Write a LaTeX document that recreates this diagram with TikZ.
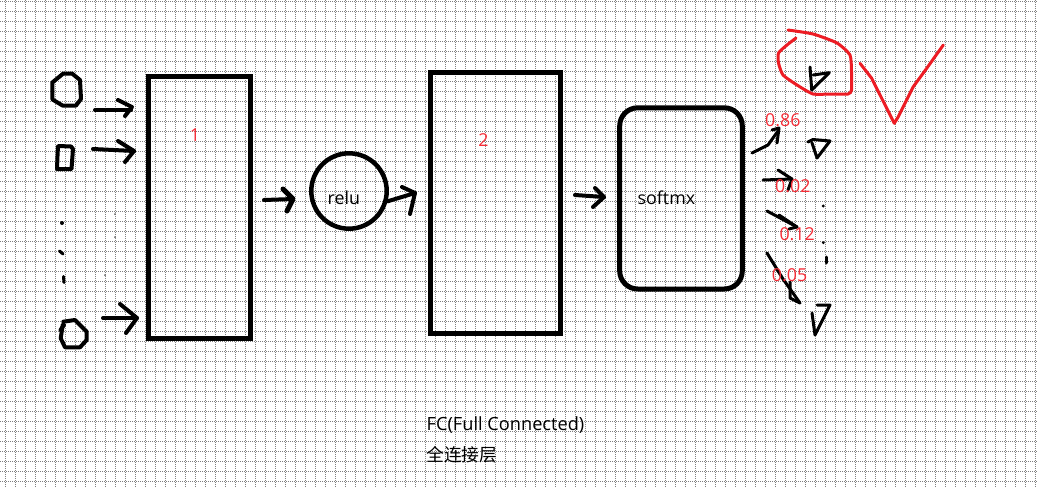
\documentclass[tikz,border=0pt]{standalone}
\usepackage{fontspec}
\setmainfont{Open Sans}
\newfontfamily\cjk{Noto Sans CJK SC}
\definecolor{pred}{RGB}{237,28,36}
\definecolor{tred}{RGB}{245,45,55}
\tikzset{
  hand/.style={line width=4pt, line cap=round, line join=round, black},
  fine/.style={line width=3pt, line cap=round, line join=round, black},
  redhand/.style={line width=3pt, line cap=round, line join=round, pred},
  lbl/.style={font=\fontsize{17.8}{20}\selectfont, inner sep=0pt, anchor=base west},
  rlbl/.style={lbl, text=tred},
  layerbox/.style={draw, rectangle, line width=4.5pt, inner sep=0pt},
  gridline/.style={black!50, line width=0.8pt, dash pattern=on 1pt off 1pt},
}
\begin{document}
\begin{tikzpicture}[x=1pt, y=-1pt]
\useasboundingbox (0,0) rectangle (1038,487);
\fill[white] (0,0) rectangle (1038,487);
% grid
\foreach \k in {0,...,103} { \draw[gridline] (5.5+10*\k,0) -- (5.5+10*\k,487); }
\foreach \k in {0,...,48} { \draw[gridline] (0,1.5+10*\k) -- (1038,1.5+10*\k); }

% layers
\node[layerbox, minimum width=102pt, minimum height=262pt] (fc1) at (199.3,207.3) {};
\node[rlbl, anchor=base] (fc1lbl) at (195,141) {1};
\node[draw, circle, line width=4.5pt, minimum size=75.4pt, inner sep=0pt] (relu) at (349,191) {};
\node[lbl] (relulbl) at (327.5,204) {relu};
\node[layerbox, minimum width=129.6pt, minimum height=261pt] (fc2) at (495.5,203) {};
\node[rlbl, anchor=base] (fc2lbl) at (483.5,146) {2};
\node[layerbox, line width=5pt, rounded corners=18pt, minimum width=122.6pt, minimum height=181.2pt] (soft) at (681,198.4) {};
\node[lbl] (softlbl) at (637.5,204) {softmx};

% inputs
\draw[hand] (63.3,73.5) -- (72,73.5) -- (80,80) -- (81,99) -- (76,105.5) -- (62.5,105.5) -- (52.5,99.5) -- (52.3,82.5) -- cycle;
\draw[hand] (58,146) -- (71,146.5) -- (73,149) -- (71.5,169) -- (57,169) -- (57.5,156) -- cycle;
\fill (62,223) circle (2pt);
\draw[hand, line width=3pt] (59.5,251) -- (63,254);
\draw[hand, line width=3pt] (63.5,276.5) -- (64,282.5);
\fill[black!60] (115,214) circle (1pt);
\fill[black!60] (115,237) circle (1pt);
\fill[black!60] (105,275) circle (1pt);
\draw[hand] (63.3,321.7) -- (75,320) -- (86.7,331.7) -- (86.7,340) -- (80,347.3) -- (65,347.3) -- (60.7,338.3) -- (62.7,325);
\draw[hand] (60.5,330) -- (64,325);

% arrows into layer 1
\coordinate (a1s) at (95,110);  \coordinate (a1t) at (132,107);
\draw[hand] (a1s) -- ([shift={(-1,3)}]a1t);
\draw[hand] ([shift={(-14,-7)}]a1t) -- (a1t) -- ([shift={(-7,9)}]a1t);
\coordinate (a2s) at (93,149);  \coordinate (a2t) at (134,151);
\draw[hand] (a2s) -- (a2t);
\draw[hand] ([shift={(-16,-10)}]a2t) -- (a2t) -- ([shift={(-9,11)}]a2t);
\coordinate (a3s) at (103,318);  \coordinate (a3t) at (137,318);
\draw[hand] (a3s) -- (a3t);
\draw[hand] ([shift={(-17,-14)}]a3t) -- (a3t) -- ([shift={(-11,15)}]a3t);

% layer 1 -> relu
\coordinate (a4s) at (264,200);  \coordinate (a4t) at (293,199);
\draw[hand] (a4s) -- (a4t);
\draw[hand, line width=5pt] ([shift={(-10,-10)}]a4t) -- (a4t) -- ([shift={(-6,12)}]a4t);
% relu -> layer 2
\coordinate (a5t) at (415,193);
\draw[hand] (relu.-15) -- (a5t);
\draw[hand] ([shift={(-13,-6)}]a5t) -- (a5t) -- ([shift={(-5,21)}]a5t);
% layer 2 -> softmax
\coordinate (a6s) at (575,195);  \coordinate (a6t) at (604,197);
\draw[hand] (a6s) -- (a6t);
\draw[hand] ([shift={(-9,-9)}]a6t) -- (a6t) -- ([shift={(-11,10)}]a6t);

% softmax outputs
\coordinate (a7s) at (752,153);  \coordinate (a7t) at (779,128);
\draw[fine] (a7s) -- (768,145) -- ([shift={(-1,3)}]a7t);
\draw[fine] ([shift={(-7,2)}]a7t) -- (a7t) -- ([shift={(-2,15)}]a7t);
\node[rlbl] (p1) at (765,126) {0.86};

\coordinate (a8s) at (763,180);  \coordinate (a8t) at (792,179);
\draw[fine] (a8s) -- (a8t);
\draw[fine] ([shift={(-14,-9)}]a8t) -- (a8t) -- ([shift={(-4,11)}]a8t);
\node[rlbl] (p2) at (775,192.7) {0.02};

\coordinate (a9s) at (767,211);  \coordinate (a9t) at (797,227);
\draw[fine] (a9s) -- (a9t);
\draw[fine] ([shift={(-18,-12)}]a9t) -- (a9t) -- ([shift={(-8,2)}]a9t);
\node[rlbl] (p3) at (779.3,240.7) {0.12};

\coordinate (a10s) at (767,253);  \coordinate (a10t) at (800,303);
\draw[fine] (a10s) -- (783,279) -- (a10t);
\draw[fine] ([shift={(-10,-21)}]a10t) -- ([shift={(-10,-5)}]a10t) -- (a10t);
\node[rlbl] (p4) at (771.7,281.7) {0.05};

% output class glyphs
\draw[fine] (810,67) -- (811.7,90) -- (829.3,72.7) -- (813.3,75);
\draw[fine] (808,142) -- (813,139.5) -- (830,141) -- (817,158) -- (812,143);
\fill (823.3,206) circle (1.6pt);
\fill (823.3,242.7) circle (1.6pt);
\draw[fine] (826.7,257) -- (826.7,263);
\draw[fine] (817,305) -- (830,305) -- (815,335) -- (812,313);

% red selection
\draw[redhand] plot[smooth, tension=0.35] coordinates {(788,30) (813,34) (837,43) (850,55) (851.5,72) (851.5,90) (848,94) (830,94) (813,94) (797,85) (783,75) (778.5,63) (778.5,53) (787,45) (796,38)};
\draw[redhand] (860,63.3) -- (871.7,78.3) -- (875,85) -- (894.3,123.3) -- (898.3,116.7) -- (913.3,86.7) -- (926.7,68.3) -- (943.3,45);

% caption
\node[lbl, font=\fontsize{18.2}{20}\selectfont] (cap1) at (426.5,430) {FC(Full Connected)};
\node[lbl, font=\cjk\fontsize{17.8}{20}\selectfont] (cap2) at (426,461) {全连接层};
\end{tikzpicture}
\end{document}
